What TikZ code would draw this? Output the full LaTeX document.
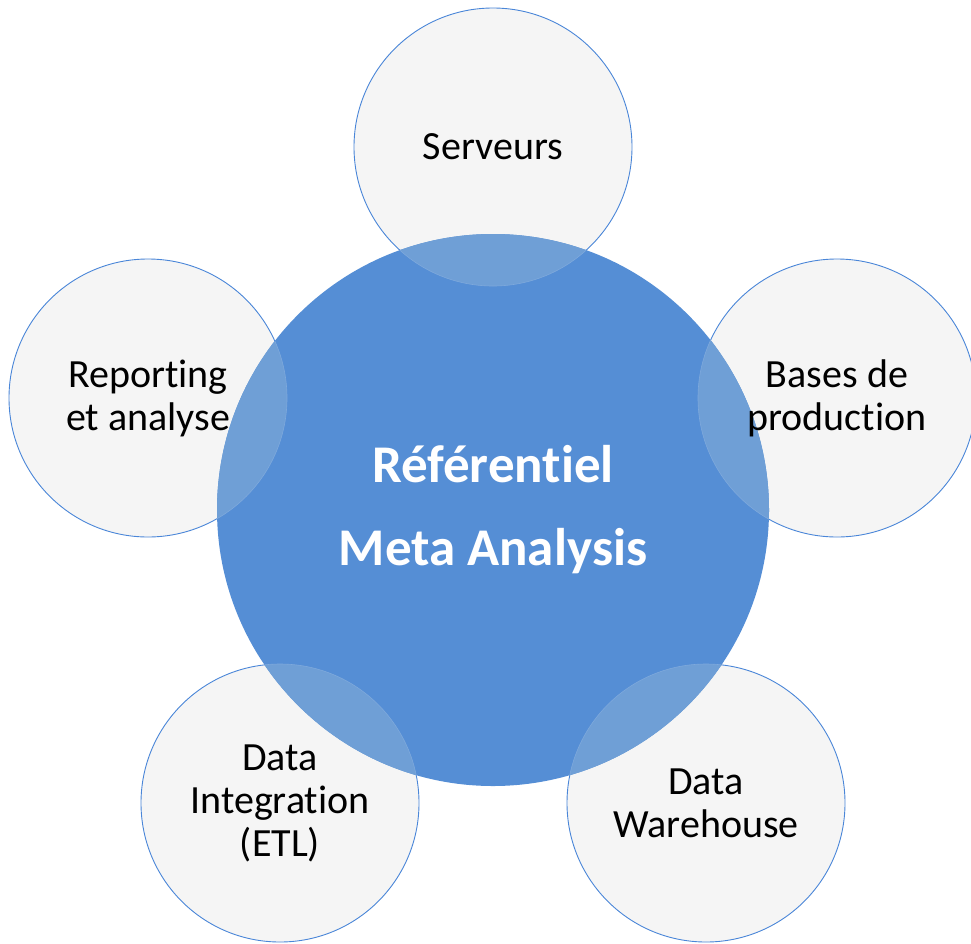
\documentclass[tikz,border=0pt]{standalone}
\usepackage{fontspec}
\setmainfont[Ligatures=NoCommon]{Carlito}
\newcommand\tinolig{t\kern0pt{}i}
\definecolor{hubblue}{HTML}{558ED5}
\definecolor{overlapblue}{HTML}{6F9FD6}
\definecolor{satgray}{HTML}{F5F5F5}
\definecolor{satline}{HTML}{4A86D8}
\definecolor{faintline}{HTML}{7EA9DC}
\begin{document}
\begin{tikzpicture}[x=1pt,y=-1pt,
  sat/.style={circle,minimum size=278pt,inner sep=0pt,fill=satgray,draw=satline,line width=0.9pt},
  hub/.style={circle,minimum size=552pt,inner sep=0pt,fill=hubblue,draw=none},
  satlabel/.style={align=center,font=\fontsize{40}{43}\selectfont},
  hublabel/.style={align=center,text=white,font=\fontsize{53}{83}\selectfont\bfseries}]
\useasboundingbox (0,0) rectangle (971,943);
% satellite circles
\node[sat] (s1) at (493,147) {};
\node[sat] (s2) at (837,398) {};
\node[sat] (s3) at (706,803) {};
\node[sat] (s4) at (280,803) {};
\node[sat] (s5) at (148,398) {};
% hub
\node[hub] (hub) at (493,510) {};
% overlaps
\foreach \s in {s1,s2,s3,s4,s5}{
  \begin{scope}
    \clip (\s.center) circle (139);
    \fill[overlapblue] (hub.center) circle (276);
  \end{scope}
  \begin{scope}
    \clip (hub.center) circle (276);
    \draw[faintline,line width=0.6pt] (\s.center) circle (139);
  \end{scope}
}
% labels
\node[satlabel] (t1) at (s1.center) {Serveurs};
\node[satlabel] (t2) at (s2.center) {Bases de\\production};
\node[satlabel] (t3) at (s3.center) {Data\\Warehouse};
\node[satlabel] (t4) at (s4.center) {Data\\Integra\tinolig on\\(ETL)};
\node[satlabel] (t5) at (s5.center) {Repor\tinolig ng\\et analyse};
\node[hublabel] (ht) at (hub.center) {Référen\tinolig el\\Meta Analysis};
\end{tikzpicture}
\end{document}
